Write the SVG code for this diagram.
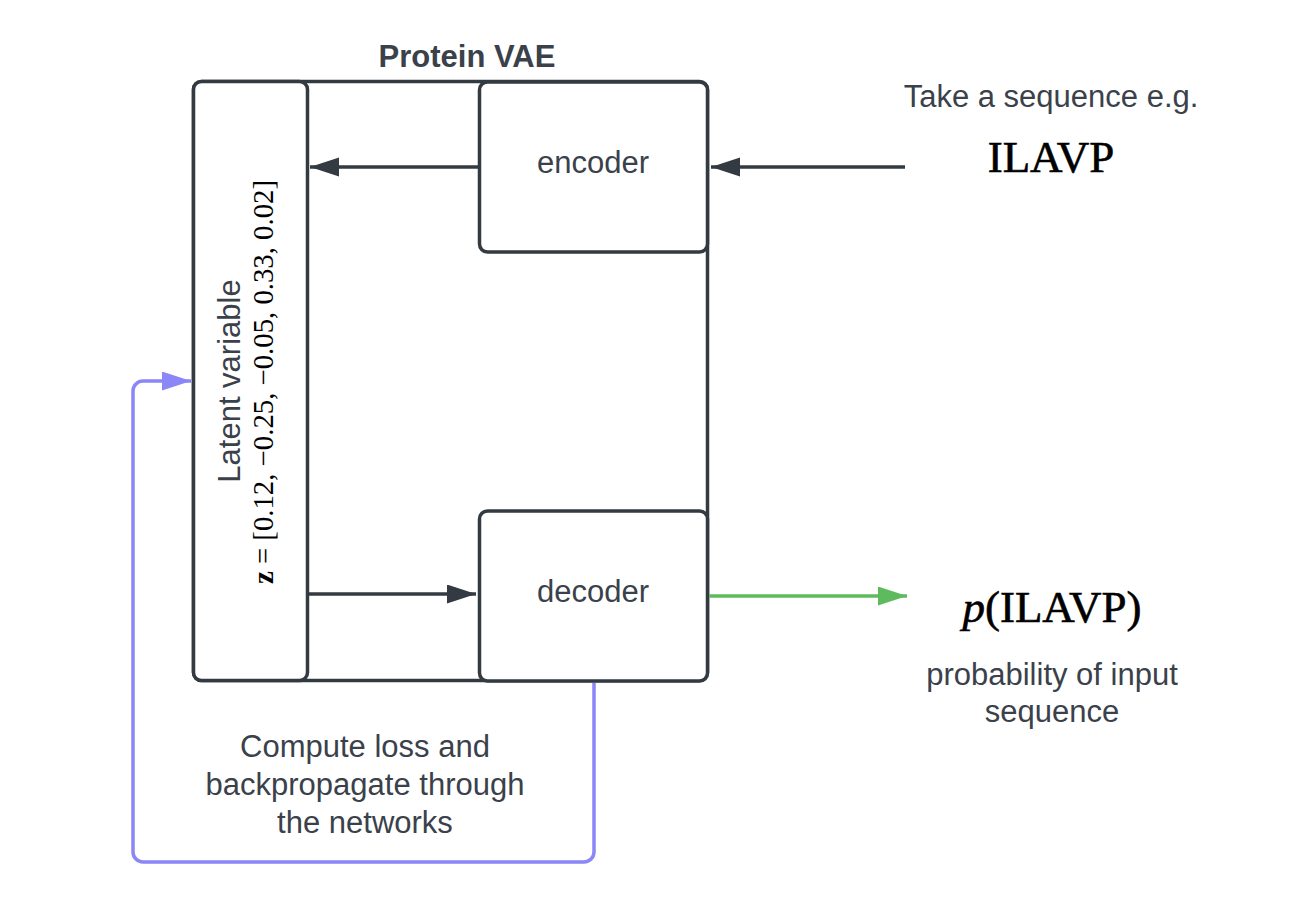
<svg xmlns="http://www.w3.org/2000/svg" width="1292" height="914" viewBox="0 0 1292 914">
<style>
.box{fill:#ffffff;stroke:#333a41;stroke-width:3.5}
.lbl{font-family:"Liberation Sans",Arial,sans-serif;font-size:31px;fill:#3a414a;text-anchor:middle}
.math{font-family:"Liberation Serif","Times New Roman",serif;fill:#000000;text-anchor:middle}
.big{font-size:45px;stroke:#000000;stroke-width:0.6}
.dark{fill:none;stroke:#333a41;stroke-width:3.5}
.green{fill:none;stroke:#5dbb5d;stroke-width:3.5}
.purple{fill:none;stroke:#8b87f6;stroke-width:3.5}
</style>
<defs>
<marker id="ad" markerUnits="userSpaceOnUse" markerWidth="30" markerHeight="20" refX="29" refY="9.5" orient="auto">
<path d="M0,0 L29,9.5 L0,19 Z" fill="#333a41"/>
</marker>
<marker id="ag" markerUnits="userSpaceOnUse" markerWidth="30" markerHeight="20" refX="29" refY="9.5" orient="auto">
<path d="M0,0 L29,9.5 L0,19 Z" fill="#5dbb5d"/>
</marker>
<marker id="ap" markerUnits="userSpaceOnUse" markerWidth="30" markerHeight="20" refX="29" refY="9.5" orient="auto">
<path d="M0,0 L29,9.5 L0,19 Z" fill="#8b87f6"/>
</marker>
</defs>

<g id="protein-vae">
<rect class="box" x="193.5" y="81.5" width="514" height="599" rx="8"/>
<text class="lbl" x="467" y="67" style="font-weight:bold">Protein VAE</text>
</g>

<g id="latent">
<rect class="box" x="193.5" y="81.5" width="114" height="599" rx="8"/>
<text class="lbl" transform="translate(240,381) rotate(-90)">Latent variable</text>
<text class="math" transform="translate(273,382) rotate(-90)" style="font-size:29px" textLength="404" lengthAdjust="spacingAndGlyphs"><tspan style="font-weight:bold">z</tspan> = [0.12, −0.25, −0.05, 0.33, 0.02]</text>
</g>

<g id="encoder">
<rect class="box" x="479.5" y="82" width="228" height="170" rx="8"/>
<text class="lbl" x="593" y="173">encoder</text>
</g>

<g id="decoder">
<rect class="box" x="479.5" y="511" width="228" height="170" rx="8"/>
<text class="lbl" x="593" y="602">decoder</text>
</g>

<g id="input">
<text class="lbl" x="1051" y="107">Take a sequence e.g.</text>
<text class="math big" x="1051" y="172">ILAVP</text>
</g>

<g id="output">
<text class="math big" x="1052" y="622"><tspan style="font-style:italic">p</tspan>(ILAVP)</text>
<text class="lbl" x="1052" y="685">probability of input</text>
<text class="lbl" x="1052" y="722">sequence</text>
</g>

<g id="loss-label">
<text class="lbl" x="365" y="757">Compute loss and</text>
<text class="lbl" x="365" y="795">backpropagate through</text>
<text class="lbl" x="365" y="833">the networks</text>
</g>

<g id="connectors">
<line class="dark" x1="905" y1="167" x2="711" y2="167" marker-end="url(#ad)"/>
<line class="dark" x1="479" y1="167" x2="310" y2="167" marker-end="url(#ad)"/>
<line class="dark" x1="308" y1="594" x2="476" y2="594" marker-end="url(#ad)"/>
<line class="green" x1="709" y1="596" x2="907" y2="596" marker-end="url(#ag)"/>
<path class="purple" d="M594,683 V852 A10,10 0 0 1 584,862 H143 A10,10 0 0 1 133,852 V391 A10,10 0 0 1 143,381 H191" marker-end="url(#ap)"/>
</g>
</svg>
